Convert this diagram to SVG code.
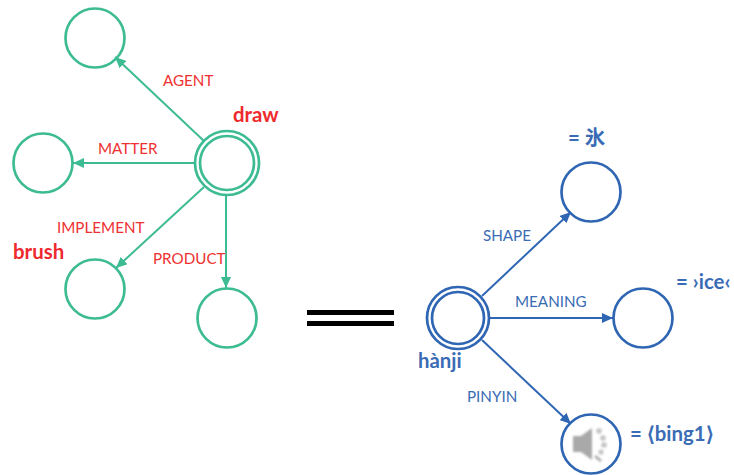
<svg xmlns="http://www.w3.org/2000/svg" width="734" height="475" viewBox="0 0 734 475">
<style>
.g{fill:#fff;fill-opacity:0;stroke:#3dbb93;stroke-width:2.7}
.b{fill:#fff;fill-opacity:0;stroke:#2f66b3;stroke-width:2.7}
.gl{stroke:#3dbb93;stroke-width:2;fill:none;marker-end:url(#ag)}
.bl{stroke:#2f66b3;stroke-width:2;fill:none;marker-end:url(#ab)}
text{font-family:Lato,"Noto Sans CJK SC",sans-serif}
.rl{font-size:15.2px;fill:#ee3030}
.bt{font-size:15.2px;fill:#3a6cb5}
.rh{font-size:20.4px;font-weight:700;fill:#ee2a2e}
.bh{font-size:20.4px;font-weight:700;fill:#3a6cb5}
</style>
<defs>
<marker id="ag" markerUnits="userSpaceOnUse" markerWidth="12" markerHeight="10" refX="11" refY="5" orient="auto"><path d="M0 0L11 5L0 10Z" fill="#3dbb93"/></marker>
<marker id="ab" markerUnits="userSpaceOnUse" markerWidth="12" markerHeight="10" refX="11" refY="5" orient="auto"><path d="M0 0L11 5L0 10Z" fill="#2f66b3"/></marker>
<filter id="blur" x="-20%" y="-20%" width="140%" height="140%"><feGaussianBlur stdDeviation="0.9"/></filter>
</defs>
<g id="connectors">
<line class="gl" x1="204" y1="141" x2="115" y2="57"/>
<line class="gl" x1="195" y1="163" x2="73" y2="163"/>
<line class="gl" x1="204" y1="187" x2="116" y2="268"/>
<line class="gl" x1="226" y1="195" x2="226" y2="288"/>
<line class="bl" x1="482" y1="296" x2="571" y2="212"/>
<line class="bl" x1="490" y1="318" x2="613" y2="318"/>
<line class="bl" x1="482" y1="340" x2="571" y2="424"/>
</g>
<g id="equals"><rect x="307" y="310" width="87" height="5" fill="#000"/><rect x="307" y="321" width="87" height="5" fill="#000"/></g>
<g id="node-agent"><circle class="g" cx="95" cy="38" r="29.5"/></g>
<g id="node-matter"><circle class="g" cx="43" cy="163" r="29.5"/></g>
<g id="node-brush"><circle class="g" cx="95" cy="289" r="29.5"/><text class="rh" x="13" y="259">brush</text></g>
<g id="node-product"><circle class="g" cx="227" cy="318" r="29.5"/></g>
<g id="node-draw"><circle class="g" cx="227" cy="163" r="32"/><circle class="g" cx="227" cy="163" r="27"/><text class="rh" x="233" y="122">draw</text></g>
<g id="node-shape"><circle class="b" cx="591" cy="192" r="29.5"/><text class="bh" x="568" y="145">= 氷</text></g>
<g id="node-meaning"><circle class="b" cx="643" cy="318" r="29.5"/><text class="bh" x="676" y="289">= ›ice‹</text></g>
<g id="node-hanji"><circle class="b" cx="458" cy="318" r="31"/><circle class="b" cx="458" cy="318" r="26"/><text class="bh" x="418" y="368">hànji</text></g>
<g id="node-pinyin"><circle class="b" cx="591" cy="444" r="29.5"/>
<g filter="url(#blur)" fill="#a9a9a9"><path d="M573 436H581L592 428V460L581 452H573Z"/><g fill="#c4c4c4"><circle cx="599" cy="431" r="2.8"/><circle cx="603" cy="438" r="2.8"/><circle cx="604" cy="445" r="2.8"/><circle cx="601" cy="452" r="2.6"/><path d="M595 456L601 461" stroke="#a9a9a9" stroke-width="2.6"/></g></g>
<text class="bh" x="630" y="441">= ⟨bing1⟩</text></g>
<g id="labels">
<text class="rl" x="163" y="86">AGENT</text>
<text class="rl" x="98" y="154">MATTER</text>
<text class="rl" x="57" y="233">IMPLEMENT</text>
<text class="rl" x="153" y="264">PRODUCT</text>
<text class="bt" x="483" y="241">SHAPE</text>
<text class="bt" x="515" y="307">MEANING</text>
<text class="bt" x="467" y="402">PINYIN</text>
</g>
</svg>
